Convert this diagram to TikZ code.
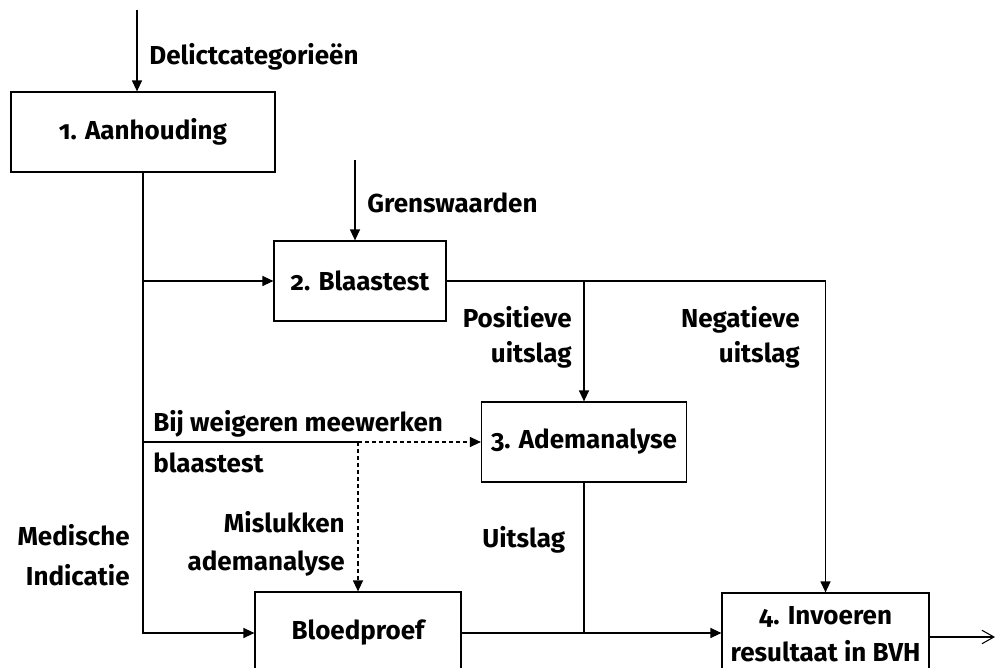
\documentclass[tikz,border=0pt]{standalone}
\usepackage{fontspec}
\setmainfont{Fira Sans}[Numbers=OldStyle]
\usetikzlibrary{arrows.meta}
\begin{document}
\begin{tikzpicture}[x=0.02cm,y=-0.02cm,
  every node/.style={font=\fontsize{14.8pt}{18pt}\selectfont\bfseries},
  box/.style={draw,line width=0.7pt,minimum height=1.6cm,inner sep=0pt,align=center},
  lbl/.style={inner sep=0pt},
  conn/.style={line width=0.7pt},
  dsh/.style={dash pattern=on 2.3pt off 1.7pt},
  arr/.style={conn,-{Triangle[length=0.22cm,width=0.2cm]}},
  outarr/.style={line width=0.6pt,-{Straight Barb[length=0.24cm,width=0.27cm]}}]
\useasboundingbox (0,0) rectangle (1000,668);
\clip (0,0) rectangle (1000,668);
% boxes
\node[box,minimum width=5.28cm] (b1) at (143,132) {1. Aanhouding};
\node[box,minimum width=3.44cm] (b2) at (360,281) {2. Blaastest};
\node[box,minimum width=4.1cm] (b3) at (584,442) {3. Ademanalyse};
\node[box,minimum width=4.12cm,minimum height=1.64cm] (bp) at (358,633) {Bloedproef};
\node[box,minimum width=4.14cm,minimum height=1.64cm] (b4) at (825.5,634) {4. Invoeren\\[3pt]resultaat in BVH};
% free ends
\coordinate (t1) at (137,10);
\coordinate (t2) at (355,160);
\coordinate (out) at (995,637);
\coordinate (j) at (bp.north |- b3.west);
% connectors
\draw[arr] (t1) -- (t1 |- b1.north);
\draw[arr] (t2) -- (t2 |- b2.north);
\draw[arr] (b1.south) |- (bp.west);
\draw[arr] (b1.south |- b2.west) -- (b2.west);
\draw[conn] (b1.south |- b3.west) -- (j);
\draw[arr,dsh] (j) -- (b3.west);
\draw[arr,dsh] (j) -- (bp.north);
\draw[arr] (b2.east) -| (b4.north);
\draw[arr] (b2.east -| b3.north) -- (b3.north);
\draw[arr] (bp.east) -- (bp.east -| b4.west);
\draw[conn] (b3.south) -- (b3.south |- bp.east);
\draw[outarr] (b4.east |- out) -- (out);
% labels
\node[lbl,anchor=base west] (l1) at (149,65) {Delictcategorieën};
\node[lbl,anchor=base west] (l2) at (367,213) {Grenswaarden};
\node[lbl,anchor=base east] (l3a) at (572,328) {Positieve};
\node[lbl,anchor=base east] (l3b) at (572,363) {uitslag};
\node[lbl,anchor=base east] (l4a) at (800,328) {Negatieve};
\node[lbl,anchor=base east] (l4b) at (800,363) {uitslag};
\node[lbl,anchor=base west] (l5a) at (153,432) {Bij weigeren meewerken};
\node[lbl,anchor=base west] (l5b) at (153,472) {blaastest};
\node[lbl,anchor=base east] (l6a) at (345,532) {Mislukken};
\node[lbl,anchor=base east] (l6b) at (345,570) {ademanalyse};
\node[lbl,anchor=base east] (l7a) at (130,545) {Medische};
\node[lbl,anchor=base east] (l7b) at (130,585) {Indicatie};
\node[lbl,anchor=base west] (l8) at (482,547) {Uitslag};
\end{tikzpicture}
\end{document}
